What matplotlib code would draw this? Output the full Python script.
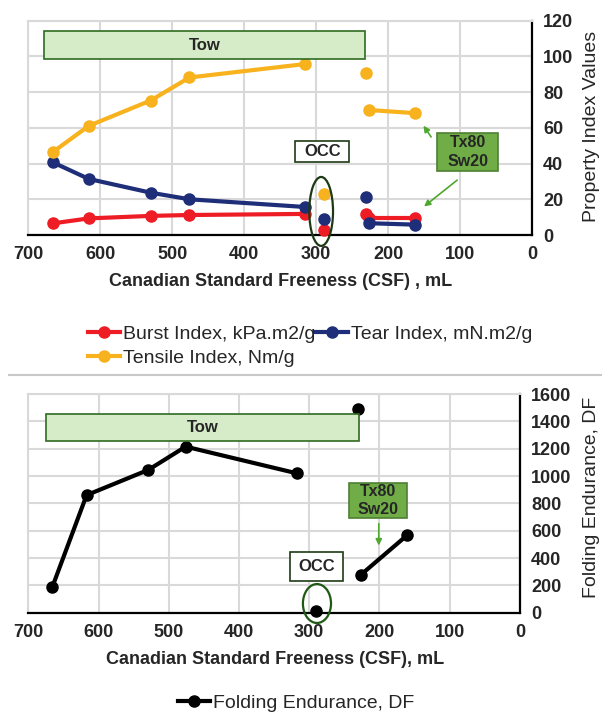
import numpy as np
import matplotlib
matplotlib.use("Agg")
import matplotlib.pyplot as plt
from matplotlib.patches import Rectangle, Ellipse
from matplotlib.lines import Line2D

plt.rcParams['font.family'] = ['Liberation Sans', 'DejaVu Sans']

# ---- data ----
# Tow series (main curve)
tow_csf = [666, 616, 530, 476, 316]
tow_burst = [6.5, 9.3, 10.7, 11.2, 11.8]
tow_tear = [40.7, 31.4, 23.7, 20.0, 15.7]
tow_tensile = [46.4, 61.1, 75.3, 88.2, 95.7]

# OCC single point
occ_csf = [289]
occ_burst = [3.0]
occ_tear = [9.2]
occ_tensile = [22.9]

# stand-alone point near 230 mL
iso_csf = [231]
iso_burst = [11.8]
iso_tear = [21.0]
iso_tensile = [90.6]

# Tx80 Sw20 blend
tx_csf = [227, 162]
tx_burst = [9.3, 9.3]
tx_tear = [6.6, 5.8]
tx_tensile = [70.0, 68.2]

# folding endurance
fold_tow_csf = [666, 617, 529, 476, 318]
fold_tow = [185, 860, 1045, 1215, 1020]
fold_iso_csf = [230]
fold_iso = [1492]
fold_occ_csf = [290]
fold_occ = [10]
fold_tx_csf = [227, 161]
fold_tx = [275, 565]

x_ticks = [700, 600, 500, 400, 300, 200, 100, 0]

RED = '#ee1c25'
BLUE = '#1f2e78'
ORANGE = '#f7b21e'
GRID = '#d9d9d9'
TXT = '#262626'
BOX_EDGE = '#2e6b1f'

fig = plt.figure(figsize=(6.02, 7.13), dpi=100)
ax1 = fig.add_axes([0.047, 0.6704, 0.8367, 0.3006])
ax2 = fig.add_axes([0.047, 0.1407, 0.8167, 0.3067])


def style_axes(ax, ymax, ystep):
    ax.set_xlim(700, 0)
    ax.set_ylim(0, ymax)
    ax.set_xticks(x_ticks)
    ax.set_yticks(np.arange(0, ymax + 1, ystep))
    ax.yaxis.tick_right()
    ax.grid(True, color=GRID, lw=1.5)
    ax.set_axisbelow(True)
    for s in ['left', 'top']:
        ax.spines[s].set_color(GRID)
        ax.spines[s].set_linewidth(1.5)
    for s in ['bottom', 'right']:
        ax.spines[s].set_color('black')
        ax.spines[s].set_linewidth(1.6)
    ax.tick_params(length=0, labelsize=13, labelcolor=TXT, pad=8)
    for lab in ax.get_xticklabels() + ax.get_yticklabels():
        lab.set_fontweight('bold')


style_axes(ax1, 120, 20)
style_axes(ax2, 1600, 200)

# ---- top chart ----
series = [(tow_burst, occ_burst, iso_burst, tx_burst, RED, 'Burst Index, kPa.m2/g'),
          (tow_tear, occ_tear, iso_tear, tx_tear, BLUE, 'Tear Index, mN.m2/g'),
          (tow_tensile, occ_tensile, iso_tensile, tx_tensile, ORANGE, 'Tensile Index, Nm/g')]
handles = {}
for tow, occ, iso, tx, c, lab in series:
    kw = dict(color=c, lw=3, marker='o', ms=8, clip_on=False, zorder=3)
    h, = ax1.plot(tow_csf, tow, **kw)
    ax1.plot(occ_csf, occ, **kw)
    ax1.plot(iso_csf, iso, **kw)
    ax1.plot(tx_csf, tx, **kw)
    handles[lab] = h

ax1.add_patch(Rectangle((678, 98.5), -(678 - 232), 114 - 98.5, facecolor='#d6ecc9',
                        edgecolor=BOX_EDGE, lw=1.2, zorder=4))
ax1.text(455, 106, 'Tow', ha='center', va='center', fontsize=12, fontweight='bold',
         color=TXT, zorder=5)
ax1.add_patch(Rectangle((329, 41), -(329 - 254), 52.8 - 41, facecolor='white',
                        edgecolor='#1e3a14', lw=1.2, zorder=4))
ax1.text(291.5, 47, 'OCC', ha='center', va='center', fontsize=12, fontweight='bold',
         color=TXT, zorder=5)
ax1.add_patch(Ellipse((293, 13.2), 33, 38.6, facecolor='none', edgecolor='#1e3a14',
                      lw=1.6, zorder=4, clip_on=False))
ax1.add_patch(Rectangle((132, 36), -(132 - 47), 57.3 - 36, facecolor='#70ad47',
                        edgecolor='#4f7f34', lw=1.2, zorder=4))
ax1.text(89.5, 46.6, 'Tx80\nSw20', ha='center', va='center', fontsize=11.5,
         fontweight='bold', color=TXT, linespacing=1.3, zorder=5)
ax1.annotate('', xy=(153, 62.5), xytext=(138, 53.6),
             arrowprops=dict(arrowstyle='-|>', color='#4ea72e', lw=1.2, mutation_scale=9))
ax1.annotate('', xy=(153, 15), xytext=(101, 31.7),
             arrowprops=dict(arrowstyle='-|>', color='#4ea72e', lw=1.2, mutation_scale=9))

fig.text(0.466, 0.6045, 'Canadian Standard Freeness (CSF) , mL', ha='center', va='center',
         fontsize=13, fontweight='bold', color=TXT)
fig.text(0.983, 0.822, 'Property Index Values', rotation=90, ha='center', va='center',
         fontsize=14, color=TXT)

labs = ['Burst Index, kPa.m2/g', 'Tensile Index, Nm/g', 'Tear Index, mN.m2/g']
fig.legend([handles[l] for l in labs], labs, ncol=2, loc='upper left',
           bbox_to_anchor=(0.133, 0.555), frameon=False, fontsize=14,
           handlelength=1.65, handletextpad=0.15, columnspacing=0.05,
           labelspacing=0.35, borderaxespad=0, labelcolor=TXT)

# divider
fig.add_artist(Line2D([0.015, 1.0], [0.474, 0.474], color='#c8c8c8', lw=1.5))

# ---- bottom chart ----
kw = dict(color='black', lw=3, marker='o', ms=8, clip_on=False, zorder=3)
hf, = ax2.plot(fold_tow_csf, fold_tow, **kw)
ax2.plot(fold_iso_csf, fold_iso, **kw)
ax2.plot(fold_occ_csf, fold_occ, **kw)
ax2.plot(fold_tx_csf, fold_tx, **kw)

ax2.add_patch(Rectangle((675, 1256), -(675 - 228.5), 1453 - 1256, facecolor='#d6ecc9',
                        edgecolor=BOX_EDGE, lw=1.2, zorder=4))
ax2.text(451, 1355, 'Tow', ha='center', va='center', fontsize=12, fontweight='bold',
         color=TXT, zorder=5)
ax2.add_patch(Rectangle((328, 234), -(328 - 252), 446 - 234, facecolor='white',
                        edgecolor='#1e3a14', lw=1.2, zorder=4))
ax2.text(290, 340, 'OCC', ha='center', va='center', fontsize=12, fontweight='bold',
         color=TXT, zorder=5)
ax2.add_patch(Ellipse((289, 67), 40, 285, facecolor='none', edgecolor='#1e5a14',
                      lw=1.6, zorder=4, clip_on=False))
ax2.add_patch(Rectangle((244, 695), -(244 - 161), 947 - 695, facecolor='#70ad47',
                        edgecolor='#4f7f34', lw=1.2, zorder=4))
ax2.text(202.5, 821, 'Tx80\nSw20', ha='center', va='center', fontsize=11.5,
         fontweight='bold', color=TXT, linespacing=1.3, zorder=5)
ax2.annotate('', xy=(201, 471), xytext=(201, 671),
             arrowprops=dict(arrowstyle='-|>', color='#4ea72e', lw=1.2, mutation_scale=9))

fig.text(0.457, 0.0757, 'Canadian Standard Freeness (CSF), mL', ha='center', va='center',
         fontsize=13, fontweight='bold', color=TXT)
fig.text(0.983, 0.303, 'Folding Endurance, DF', rotation=90, ha='center', va='center',
         fontsize=14, color=TXT)
fig.legend([hf], ['Folding Endurance, DF'], loc='center left',
           bbox_to_anchor=(0.282, 0.014), frameon=False, fontsize=14,
           handlelength=1.65, handletextpad=0.15, borderaxespad=0, labelcolor=TXT)

fig.savefig('out.png', dpi=100)
